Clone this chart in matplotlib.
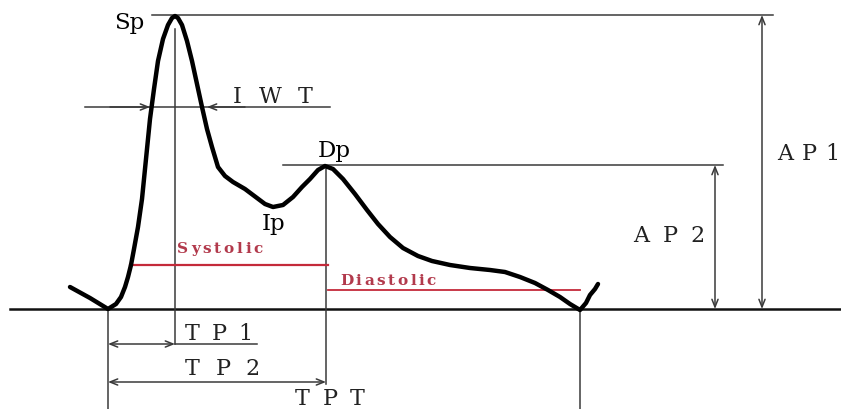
import matplotlib
matplotlib.use("Agg")
import matplotlib.pyplot as plt

# pulse waveform (pixel space, y grows downward)
wave_x = [70, 90, 108, 116, 121, 125, 128, 131, 134, 138, 142, 146, 150, 154,
          158, 163, 168, 172, 175, 178, 182, 187, 192, 197, 202, 207, 212, 218,
          225, 233, 245, 257, 265, 273, 283, 293, 302, 310, 318, 325, 333, 343,
          355, 367, 378, 390, 403, 418, 432, 450, 470, 490, 505, 520, 535, 548,
          560, 570, 580, 586, 590, 595, 598]
wave_y = [288, 299, 310, 305, 298, 288, 278, 266, 250, 228, 200, 160, 120, 90,
          62, 40, 26, 19, 17, 19, 26, 42, 62, 85, 108, 130, 148, 168,
          177, 183, 190, 199, 205, 208, 206, 198, 188, 180, 171, 167, 170, 180,
          195, 211, 225, 238, 249, 257, 262, 266, 269, 271, 273, 278, 284, 291,
          298, 305, 311, 304, 296, 290, 285]

baseline_y = 310
foot_x = [108, 580]            # start / end of the beat
sp_x, sp_y = 175, 16           # systolic peak
dp_x, dp_y = 326, 166          # diastolic peak
iwt_y, iwt_left, iwt_right = 108, 150, 207
systolic_y, diastolic_y = 266, 291
systolic_x = [130, 328]
diastolic_x = [328, 580]
tp1_y, tp2_y = 345, 383
ap2_x, ap1_x = 715, 762

INK = "#3a3a3a"
RED = "#c42a3a"
RED_TXT = "#b23a4c"
SERIF = ["DejaVu Serif"]

fig = plt.figure(figsize=(8.41, 4.10), dpi=100)
ax = fig.add_axes([0, 0, 1, 1])
ax.set_xlim(0, 841)
ax.set_ylim(410, 0)
ax.axis("off")
renderer = fig.canvas.get_renderer()


def fit_text(s, x0, x1, y, **kw):
    """Lay out s between x0 and x1 (baseline y), even gaps between glyphs."""
    texts = [ax.text(0, y, ch, ha="left", va="baseline", **kw) for ch in s]
    widths = [t.get_window_extent(renderer=renderer).width for t in texts]
    gap = max((x1 - x0 - sum(widths)) / max(len(s) - 1, 1), 0.5)
    x = x0
    for t, w in zip(texts, widths):
        t.set_x(x)
        x += w + gap


def arrow(p0, p1, style="<->"):
    ax.annotate("", xy=p1, xytext=p0,
                arrowprops=dict(arrowstyle=f"{style},head_length=0.55,head_width=0.22",
                                color=INK, lw=1.1, shrinkA=0, shrinkB=0))


# baseline and the wave
ax.plot([10, 841], [baseline_y, baseline_y], color="#111111", lw=1.8, zorder=2)
ax.plot(wave_x, wave_y, color="black", lw=3.2, solid_joinstyle="round",
        solid_capstyle="round", zorder=5)

# level lines from the peaks
ax.plot([152, 773], [sp_y, sp_y], color=INK, lw=1.1)
ax.plot([283, 723], [dp_y, dp_y], color=INK, lw=1.1)

# verticals
ax.plot([sp_x, sp_x], [30, tp1_y], color=INK, lw=1.1)
ax.plot([dp_x, dp_x], [dp_y + 4, tp2_y + 2], color=INK, lw=1.1)
for fx in foot_x:
    ax.plot([fx, fx], [baseline_y, 410], color=INK, lw=1.1)

# IWT
ax.plot([85, 330], [iwt_y, iwt_y], color=INK, lw=1.1)
arrow((110, iwt_y), (iwt_left, iwt_y), "->")
arrow((245, iwt_y), (iwt_right, iwt_y), "->")

# time spans
arrow((foot_x[0], tp1_y), (sp_x, tp1_y))
ax.plot([sp_x, 257], [tp1_y, tp1_y], color=INK, lw=1.1)
arrow((foot_x[0], tp2_y), (dp_x, tp2_y))

# amplitudes
arrow((ap2_x, dp_y), (ap2_x, baseline_y))
arrow((ap1_x, sp_y), (ap1_x, baseline_y))

# systolic / diastolic levels
ax.plot(systolic_x, [systolic_y, systolic_y], color=RED, lw=1.6, zorder=3)
ax.plot(diastolic_x, [diastolic_y, diastolic_y], color=RED, lw=1.3, zorder=3)

# labels
big = dict(family=SERIF, fontsize=16.5, color="black", va="baseline")
ax.text(114, 29, "Sp", **big)
ax.text(318, 157, "Dp", **big)
ax.text(262, 230, "Ip", **big)

mid = dict(family=SERIF, fontsize=16, color="#222222")
fit_text("IWT", 233, 313, 103, **mid)
fit_text("TP1", 185, 252, 340, **mid)
fit_text("TP2", 185, 260, 375, **mid)
fit_text("TPT", 295, 365, 405, **mid)
fit_text("AP2", 633, 705, 242, **mid)
fit_text("AP1", 777, 839, 160, **mid)

red = dict(family=SERIF, fontsize=11, fontweight="bold", color=RED_TXT)
fit_text("Systolic", 177, 263, 253, **red)
fit_text("Diastolic", 340, 436, 285, **red)

fig.savefig("out.png", dpi=100)
